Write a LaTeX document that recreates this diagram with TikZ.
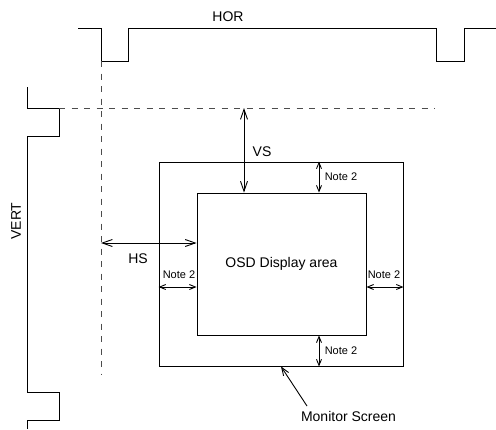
\documentclass[tikz,border=0pt]{standalone}
\usepackage{fontspec}
\setmainfont{Liberation Sans}
\usetikzlibrary{arrows.meta}
\usetikzlibrary{positioning}

\begin{document}
\begin{tikzpicture}[x=1pt, y=-1pt, line width=0.9pt,
  >={Straight Barb[length=10pt,width=7pt]},
  lbl/.style={font=\fontsize{14}{16}\selectfont, inner sep=0pt},
  note/.style={font=\fontsize{11}{13}\selectfont, inner sep=0pt},
  notearrow/.style={<->, >={Straight Barb[length=6pt,width=5pt]}},
  sync/.style={line width=1pt, draw=black!70, dash pattern=on 6pt off 6.5pt}]

  \useasboundingbox (0,0) rectangle (496,429);

  % Define nodes
  \node[draw, rectangle, minimum width=244pt, minimum height=204pt] (screen) at (281,264) {};
  \node[draw, rectangle, minimum width=169pt, minimum height=142pt, lbl] (osd) at (281.5,264) {OSD Display area};
  \node[lbl] (hor) at (228,17) {HOR};
  \node[lbl, rotate=90] (vert) at (16,221) {VERT};
  \node[lbl] (vs) at (262,151.5) {VS};
  \node[lbl] (hs) at (138,258.5) {HS};
  \node[lbl] (mon) at (348.5,416) {Monitor Screen};
  \node[note] (ntop) at (341,176.7) {Note 2};
  \node[note] (nbot) at (341,350.5) {Note 2};
  \node[note] (nleft) at (179,274.5) {Note 2};
  \node[note] (nright) at (384,274.5) {Note 2};

  \coordinate (hsync) at (101,61);
  \coordinate (hend) at (101,374);
  \coordinate (vsync) at (59,108);
  \coordinate (vend) at (435,108);
  \coordinate (vsx) at (244,108);
  \coordinate (hsy) at (101,243);
  \coordinate (notex) at (319,0);
  \coordinate (notey) at (0,287);
  \coordinate (montail) at (307,406);

  % Sync waveforms
  \draw (78,28) -| (hsync) -| (128,28) -| (436,61) -| (464,28) -- (496,28);
  \draw (27,87) |- (vsync) |- (27,136) |- (59,392) |- (27,420) -- (27,429);
  \draw[sync] (hsync) -- (hend);
  \draw[sync] (vsync) -- (vend);

  % Connect the nodes
  \draw[<->] (vsx) -- (vsx |- osd.north);
  \draw[<->] (hsy) -- (hsy -| osd.west);
  \draw[notearrow] (notex |- screen.north) -- (notex |- osd.north);
  \draw[notearrow] (notex |- osd.south) -- (notex |- screen.south);
  \draw[notearrow] (notey -| screen.west) -- (notey -| osd.west);
  \draw[notearrow] (notey -| osd.east) -- (notey -| screen.east);
  \draw[->, >={Straight Barb[length=8pt,width=6pt]}] (montail) -- (screen.south);

\end{tikzpicture}
\end{document}
